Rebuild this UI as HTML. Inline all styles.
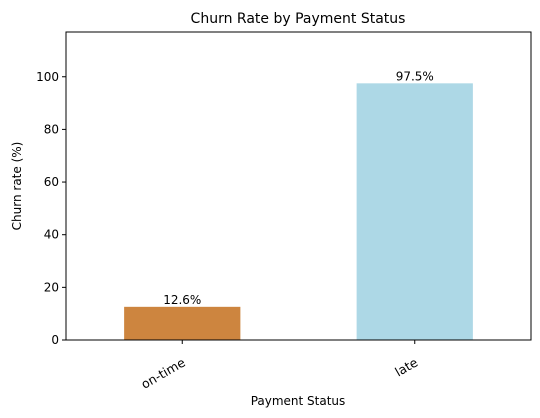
<!DOCTYPE html>
<html><head><meta charset="utf-8"><style>
body{margin:0;background:#fff;}
svg{display:block;font-family:"DejaVu Sans","Liberation Sans",sans-serif;}
</style></head><body>
<svg id="chart" width="540" height="418">
<text x="298" y="23" text-anchor="middle" font-size="14">Churn Rate by Payment Status</text>
<g id="plot"></g>
<text x="298" y="405" text-anchor="middle" font-size="12">Payment Status</text>
<text transform="translate(21,186) rotate(-90)" text-anchor="middle" font-size="12">Churn rate (%)</text>
</svg>
<script>
const categories=["on-time","late"];
const values=[12.6,97.5];
const labels=["12.6%","97.5%"];
const yTicks=[0,20,40,60,80,100];
const colors=["#CD853F","#ADD8E6"];
const L=66,R=531,T=32,B=340;
const yMax=Math.max(...values)*1.2;
const y=v=>B-(v/yMax)*(B-T);
const unit=(R-L)/categories.length;
const x=i=>L+unit*(i+0.5);
const ns="http://www.w3.org/2000/svg";
const g=document.getElementById('plot');
function mk(t,a){const e=document.createElementNS(ns,t);for(const k in a)e.setAttribute(k,a[k]);g.appendChild(e);return e;}
values.forEach((v,i)=>{
 const r=mk('rect',{x:x(i)-unit/4,y:y(v),width:unit/2,height:B-y(v),fill:colors[i]});
 
 
 const t=mk('text',{x:x(i),y:y(v)-3,'text-anchor':'middle','font-size':12});
 t.textContent=labels[i];
 
 
 const tk=mk('line',{x1:x(i),x2:x(i),y1:B,y2:B+4,stroke:'#000'});
 
 
 const tl=mk('text',{'text-anchor':'end','font-size':12.5,transform:`translate(${x(i)+4},${B+25}) rotate(-30)`});
 tl.textContent=categories[i];
 
 
});
yTicks.forEach(v=>{
 const tk=mk('line',{x1:L-4,x2:L,y1:y(v),y2:y(v),stroke:'#000'});
 
 
 const t=mk('text',{x:L-7,y:y(v)+4,'text-anchor':'end','font-size':12});
 t.textContent=v;
 
 
});
const f=mk('rect',{x:L,y:T,width:R-L,height:B-T,fill:'none',stroke:'#000','stroke-width':1});


</script>
</body></html>
